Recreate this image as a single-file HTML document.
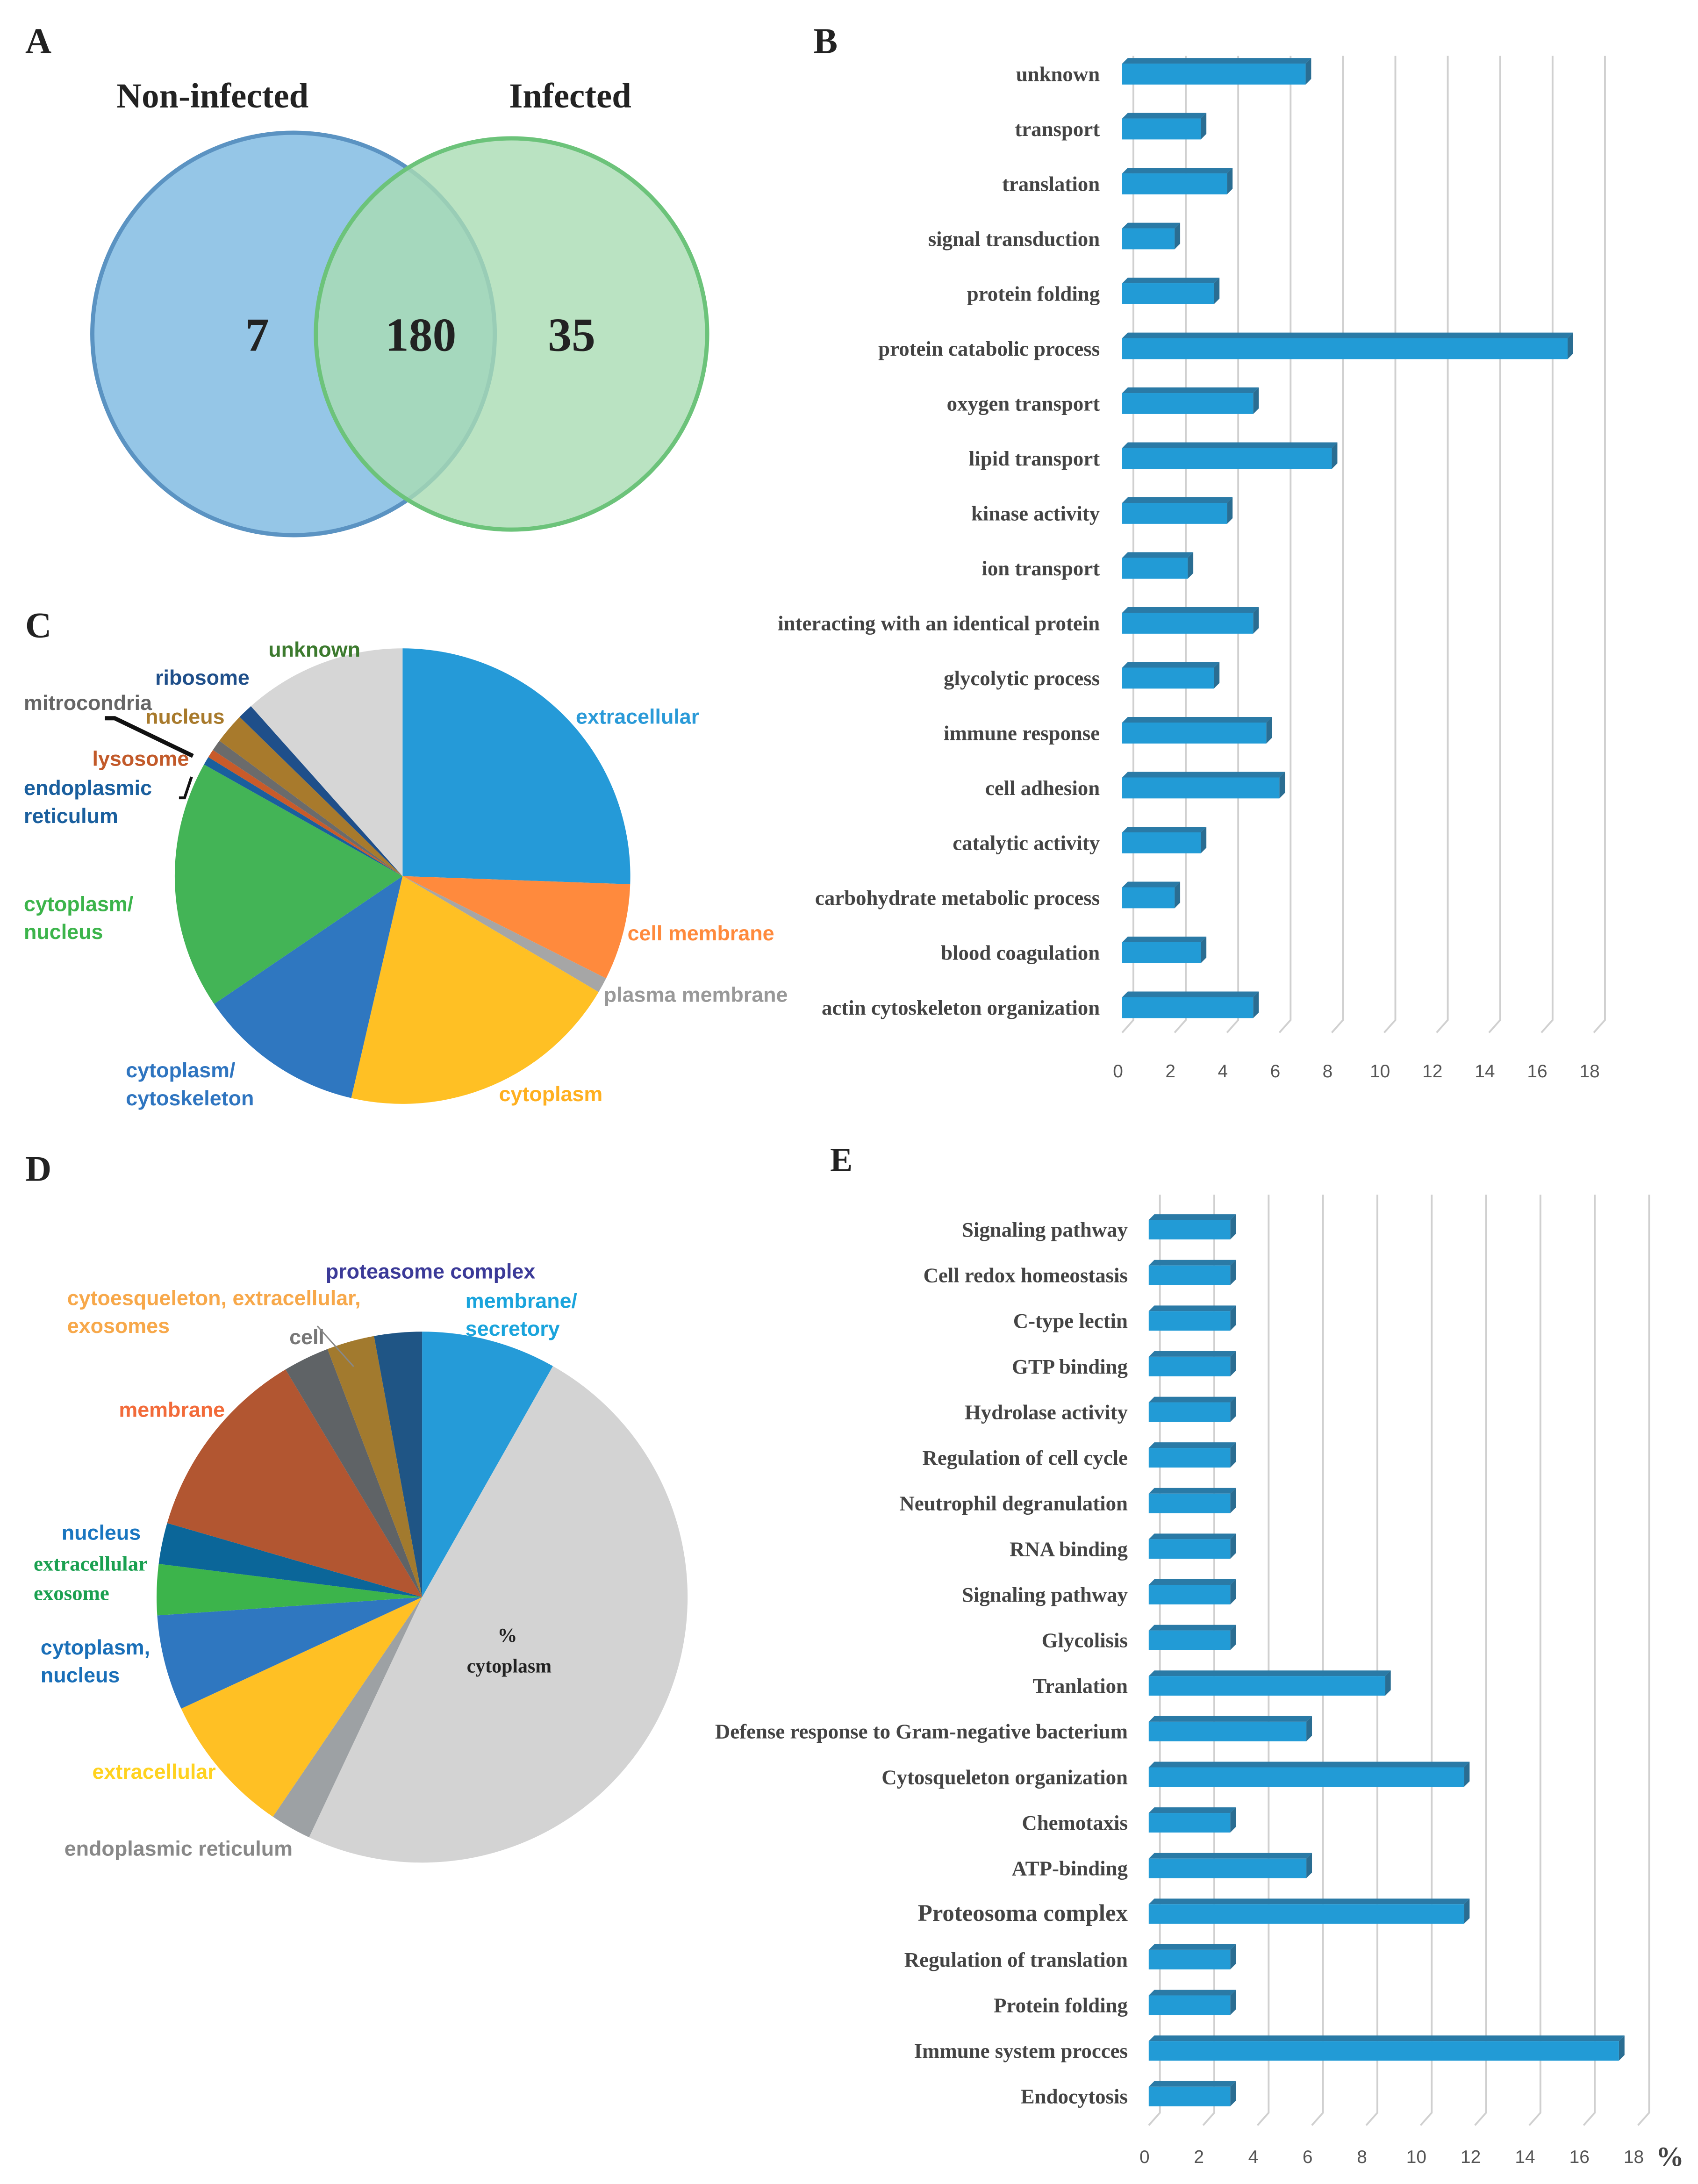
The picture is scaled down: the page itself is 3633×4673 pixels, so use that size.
<!DOCTYPE html>
<html><head><meta charset="utf-8">
<style>
html,body{margin:0;padding:0;background:#fff;}
svg{display:block;}
.ser{font-family:"Liberation Serif",serif;font-weight:bold;}
.sans{font-family:"Liberation Sans Narrow","Liberation Sans",sans-serif;font-weight:bold;}
.ar{font-family:"Liberation Sans",sans-serif;font-weight:bold;}
</style></head>
<body>
<svg id="fig" width="3633" height="4673" viewBox="0 0 1215 1563" xmlns="http://www.w3.org/2000/svg">
<rect width="1215" height="1563" fill="#fff"/>
<text class="ser" x="18" y="38" font-size="26" fill="#222">A</text>
<text class="ser" x="582" y="38" font-size="26" fill="#222">B</text>
<text class="ser" x="18" y="456" font-size="26" fill="#222">C</text>
<text class="ser" x="18" y="845" font-size="26" fill="#222">D</text>
<text class="ser" x="594" y="838" font-size="24" fill="#222">E</text>

<g>
<circle cx="210" cy="239" r="144" fill="#8fc3e6" fill-opacity="0.95" stroke="#5b93c2" stroke-width="3"/>
<circle cx="366" cy="239" r="140" fill="#a9dcb3" fill-opacity="0.8" stroke="#6cc37a" stroke-width="3"/>
<text class="ser" x="152" y="77" font-size="25" text-anchor="middle" fill="#222">Non-infected</text>
<text class="ser" x="408" y="77" font-size="25" text-anchor="middle" fill="#222">Infected</text>
<text class="ser" x="184" y="251" font-size="34" text-anchor="middle" fill="#222">7</text>
<text class="ser" x="301" y="251" font-size="34" text-anchor="middle" fill="#222">180</text>
<text class="ser" x="409" y="251" font-size="34" text-anchor="middle" fill="#222">35</text>
</g>

<g id="chartB"></g>
<g id="chartE"></g>
<g id="pieC"></g>
<g id="pieD"></g>

<g class="sans" font-size="15">
<text x="192" y="470" fill="#3c7a2e">unknown</text>
<text x="111" y="490" fill="#1f4f8a">ribosome</text>
<text x="17" y="508" fill="#666">mitrocondria</text>
<text x="104" y="518" fill="#a87a2c">nucleus</text>
<text x="66" y="548" fill="#c25a2a">lysosome</text>
<text x="17" y="569" fill="#1a5f9e">endoplasmic</text>
<text x="17" y="589" fill="#1a5f9e">reticulum</text>
<text x="17" y="652" fill="#3cb44b">cytoplasm/</text>
<text x="17" y="672" fill="#3cb44b">nucleus</text>
<text x="90" y="771" fill="#2f75c0">cytoplasm/</text>
<text x="90" y="791" fill="#2f75c0">cytoskeleton</text>
<text x="357" y="788" fill="#ffb020">cytoplasm</text>
<text x="432" y="717" fill="#999">plasma membrane</text>
<text x="449" y="673" fill="#ff8a3d">cell membrane</text>
<text x="412" y="518" fill="#2a9ad8">extracellular</text>
</g>
<polyline points="75,514 82,514 138,541" fill="none" stroke="#111" stroke-width="3"/>
<polyline points="128,571 132,571 137,556" fill="none" stroke="#111" stroke-width="2"/>

<g class="ar" font-size="15">
<text x="233" y="915" fill="#3b3a98">proteasome complex</text>
<text x="48" y="934" fill="#f7a84a">cytoesqueleton, extracellular,</text>
<text x="48" y="954" fill="#f7a84a">exosomes</text>
<text x="333" y="936" fill="#1aa4dc">membrane/</text>
<text x="333" y="956" fill="#1aa4dc">secretory</text>
<text x="207" y="962" fill="#777">cell</text>
<text x="85" y="1014" fill="#f26b3a">membrane</text>
<text x="44" y="1102" fill="#1a76c0">nucleus</text>
<text x="29" y="1184" fill="#1a6fb8">cytoplasm,</text>
<text x="29" y="1204" fill="#1a6fb8">nucleus</text>
<text x="66" y="1273" fill="#ffd21f">extracellular</text>
<text x="46" y="1328" fill="#888">endoplasmic reticulum</text>
</g>
<text class="ser" x="24" y="1124" font-size="15" fill="#1aa050">extracellular</text>
<text class="ser" x="24" y="1145" font-size="15" fill="#1aa050">exosome</text>
<text class="ser" x="356" y="1175" font-size="14" fill="#222">%</text>
<text class="ser" x="334" y="1197" font-size="14" fill="#222">cytoplasm</text>
<line x1="227" y1="949" x2="253" y2="978" stroke="#888" stroke-width="1"/>
<text class="ser" x="1185" y="1550" font-size="20" fill="#444">%</text>

<script>
const catsB = ["unknown","transport","translation","signal transduction","protein folding","protein catabolic process","oxygen transport","lipid transport","kinase activity","ion transport","interacting with an identical protein","glycolytic process","immune response","cell adhesion","catalytic activity","carbohydrate metabolic process","blood coagulation","actin cytoskeleton organization"];
const valsB = [7,3,4,2,3.5,17,5,8,4,2.5,5,3.5,5.5,6,3,2,3,5];
const ticksB = [0,2,4,6,8,10,12,14,16,18];
const catsE = ["Signaling pathway","Cell redox homeostasis","C-type lectin","GTP binding","Hydrolase activity","Regulation of cell cycle","Neutrophil degranulation","RNA binding","Signaling pathway","Glycolisis","Tranlation","Defense response to Gram-negative bacterium","Cytosqueleton organization","Chemotaxis","ATP-binding","Proteosoma complex","Regulation of translation","Protein folding","Immune system procces","Endocytosis"];
const valsE = [3,3,3,3,3,3,3,3,3,3,8.7,5.8,11.6,3,5.8,11.6,3,3,17.3,3];
const ticksE = [0,2,4,6,8,10,12,14,16,18];
const catsC = ["extracellular","cell membrane","plasma membrane","cytoplasm","cytoplasm/cytoskeleton","cytoplasm/nucleus","endoplasmic reticulum","lysosome","mitrocondria","nucleus","ribosome","unknown"];
const valsC = [25.8,6.9,1.1,20.3,12.0,17.8,0.6,0.6,0.8,2.2,1.1,11.7];
const colorsC = ["#259ad8","#ff8a3d","#a6a6a6","#ffc024","#2f77c0","#43b456","#1a5f9e","#c95b2a","#6b6b6b","#a87a2c","#1f4f8a","#d6d6d6"];
const catsD = ["membrane/secretory","cytoplasm","endoplasmic reticulum","extracellular","cytoplasm, nucleus","extracellular exosome","nucleus","membrane","cell","cytoesqueleton, extracellular, exosomes","proteasome complex"];
const valsD = [8.2,48.8,2.5,8.6,5.8,3.1,2.5,11.9,2.8,2.9,2.9];
const colorsD = ["#259bd8","#d3d3d3","#9da1a4","#ffc024","#2f77c0","#3cb44b","#0b6699","#b25631","#5f6366","#a27a2e","#1f5585"];

const NS = "http://www.w3.org/2000/svg";
function mk(parent, tag, attrs){const e=document.createElementNS(NS,tag);for(const k in attrs)e.setAttribute(k,attrs[k]);parent.appendChild(e);return e;}

function barChart(gid, cats, vals, ticks, opt){
  const g=document.getElementById(gid);
  const xs=v=>opt.x0+v*opt.unit;
  const ys=i=>opt.y0+i*opt.step;
  const d=opt.depth;
  ticks.forEach(t=>{
    const l=mk(g,"polyline",{points:`${xs(t)+d+4},${opt.gTop} ${xs(t)+d+4},${opt.gBot} ${xs(t)},${opt.gBot+9}`,fill:"none",stroke:"#d0d0d0","stroke-width":1.3});
    
    
    const tx=mk(g,"text",{x:xs(t)-3,y:opt.tickY,"font-size":13,"text-anchor":"middle",fill:"#555","font-family":"Liberation Sans, sans-serif"});
    tx.textContent=t;
    
    
  });
  cats.forEach((c,i)=>{
    const yc=ys(i), h=opt.bh, x1=xs(0), x2=xs(vals[i]);
    const top=mk(g,"polygon",{points:`${x1},${yc-h/2} ${x1+d},${yc-h/2-d} ${x2+d},${yc-h/2-d} ${x2},${yc-h/2}`,fill:"#2a7aa6"});
    
    
    const side=mk(g,"polygon",{points:`${x2},${yc-h/2} ${x2+d},${yc-h/2-d} ${x2+d},${yc+h/2-d} ${x2},${yc+h/2}`,fill:"#2a6d92"});
    
    
    const r=mk(g,"rect",{x:x1,y:yc-h/2,width:x2-x1,height:h,fill:"#229bd6"});
    
    
    const t=mk(g,"text",{x:opt.labelX,y:yc+5,"font-size":(opt.big&&opt.big.includes(i))?17:15,"text-anchor":"end",fill:"#444","font-family":"Liberation Serif, serif","font-weight":"bold"});
    t.textContent=c;
    
    
  });
}
barChart("chartB",catsB,valsB,ticksB,{x0:803,unit:18.75,y0:53,step:39.3,bh:15,depth:4,labelX:787,gTop:40,gBot:730,tickY:771});
barChart("chartE",catsE,valsE,ticksE,{x0:822,unit:19.45,y0:880,step:32.65,bh:14,depth:4,labelX:807,gTop:855,gBot:1512,tickY:1548,big:[15]});

function pie(gid, vals, colors, cx, cy, r){
  const g=document.getElementById(gid);
  const tot=vals.reduce((a,b)=>a+b,0);
  let a=0;
  vals.forEach((v,i)=>{
    const a0=a/tot*2*Math.PI, a1=(a+v)/tot*2*Math.PI; a+=v;
    const p0=[cx+r*Math.sin(a0),cy-r*Math.cos(a0)], p1=[cx+r*Math.sin(a1),cy-r*Math.cos(a1)];
    const large=(a1-a0)>Math.PI?1:0;
    const p=mk(g,"path",{d:`M${cx},${cy} L${p0[0]},${p0[1]} A${r},${r} 0 ${large} 1 ${p1[0]},${p1[1]} Z`,fill:colors[i]});
    
    
  });
}
pie("pieC",valsC,colorsC,288,627,163);
pie("pieD",valsD,colorsD,302,1143,190);
</script>
</svg>
</body></html>
